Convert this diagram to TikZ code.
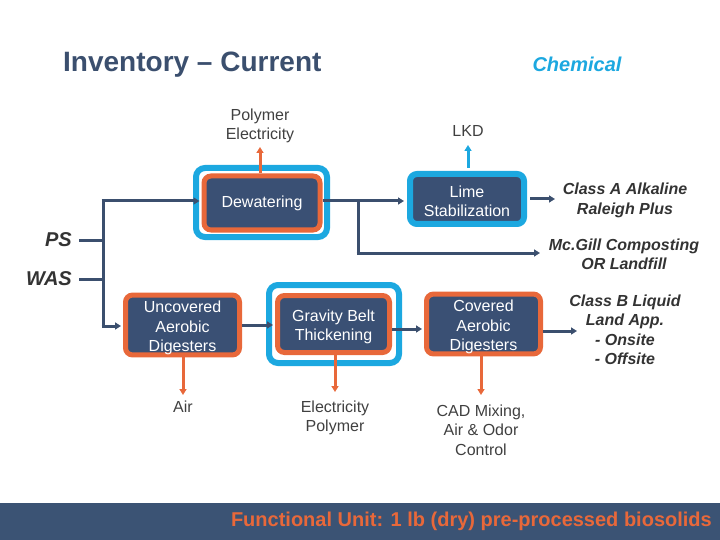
\documentclass[tikz,border=0pt]{standalone}
\usepackage{fontspec}
\setmainfont{Liberation Sans}
\usetikzlibrary{arrows.meta}
\definecolor{navy}{HTML}{3B4F6E}
\definecolor{boxfill}{HTML}{3A5074}
\definecolor{orng}{HTML}{E8683A}
\definecolor{cyanb}{HTML}{1CA8E0}
\definecolor{txtgray}{HTML}{404040}
\definecolor{outgray}{HTML}{333333}
\definecolor{footbar}{HTML}{3B5374}
\newcommand{\dropline}{\rule{0pt}{17.5pt}}
\begin{document}
\begin{tikzpicture}[x=1pt,y=-1pt,
  proc/.style={fill=boxfill, text=white, rounded corners=7pt, align=center,
    font=\fontsize{16}{19.5}\selectfont, inner sep=0pt},
  orbox/.style={proc, draw=orng, line width=5pt},
  blbox/.style={proc, draw=cyanb, line width=6pt},
  ring/.style={draw=cyanb, line width=6pt, rounded corners=9pt},
  tip/.style={-{Triangle[length=6pt,width=7pt]}},
  conn/.style={draw=navy, line width=3pt},
  oconn/.style={draw=orng, line width=3pt, tip},
  cconn/.style={draw=cyanb, line width=3pt, tip},
  lbl/.style={text=txtgray, align=center, font=\fontsize{16}{19.5}\selectfont, inner sep=0pt},
  outlbl/.style={text=outgray, align=center, font=\fontsize{16}{19.5}\selectfont\bfseries\itshape, inner sep=0pt},
  srclbl/.style={text=outgray, font=\fontsize{20}{24}\selectfont\bfseries\itshape, inner sep=0pt}
]
\useasboundingbox (0,0) rectangle (720,540);

% title
\node[anchor=west, text=navy, font=\fontsize{28}{32}\selectfont\bfseries, inner sep=0pt] (title) at (63,65) {Inventory – Current};
\node[text=cyanb, font=\fontsize{20}{24}\selectfont\bfseries\itshape, inner sep=0pt] (chem) at (577,64) {Chemical};

% boxes
\node[orbox, minimum width=116pt, minimum height=54pt] (dew) at (262,203) {Dewatering};
\draw[ring] (196,168) rectangle (327,237);
\node[blbox, minimum width=114pt, minimum height=50pt] (lime) at (467,199) {\rule{0pt}{16pt}Lime\\Stabilization};
\node[orbox, minimum width=114pt, minimum height=59pt] (unc) at (182.5,325) {\dropline Uncovered\\Aerobic\\Digesters};
\node[orbox, minimum width=112pt, minimum height=57pt] (grav) at (333.5,324) {\dropline Gravity Belt\\Thickening};
\draw[ring] (269,285) rectangle (399,363);
\node[orbox, minimum width=114pt, minimum height=57pt] (cov) at (483.5,324) {\dropline Covered\\Aerobic\\Digesters};

% labels
\node[lbl] (polel) at (260,126) {Polymer\\Electricity};
\node[lbl] (lkd) at (468,131) {LKD};
\node[lbl] (air) at (183,407) {Air};
\node[lbl] (elpo) at (335,418) {Electricity\\Polymer};
\node[lbl] (cad) at (481,430) {CAD Mixing,\\Air \& Odor\\Control};
\node[outlbl] (classa) at (625,200.5) {Class A Alkaline\\Raleigh Plus};
\node[outlbl] (mcgill) at (624,254.5) {Mc.Gill Composting\\OR Landfill};
\node[outlbl] (classb) at (625,330) {Class B Liquid\\Land App.\\- Onsite\\- Offsite};
\node[srclbl, anchor=east] (ps) at (72,240) {PS};
\node[srclbl, anchor=east] (was) at (72,279) {WAS};

% junctions
\coordinate (jt) at (103,201);
\coordinate (jb) at (103,326);
\coordinate (br) at (358,201);
\coordinate (brb) at (358,253);

% connectors
\draw[conn] ([xshift=7pt]ps.east) -- (ps.east -| jt);
\draw[conn] ([xshift=7pt]was.east) -- (was.east -| jt);
\draw[conn] (jt) -- (jb);
\draw[conn, tip, shorten >=2pt] ([xshift=-1.5pt]jt) -- (jt -| dew.west);
\draw[conn, tip, shorten >=2pt] ([xshift=-1.5pt]jb) -- (jb -| unc.west);
\draw[conn, tip, shorten >=3pt] (jt -| dew.east) -- (jt -| lime.west);
\draw[conn] (br) -- (brb);
\draw[conn, tip] ([xshift=-1.5pt]brb) -- (brb -| 540,0);
\draw[conn, tip, shorten <=3pt] (lime.east) -- (555,199);
\draw[conn, tip, shorten >=2pt] (unc.east) -- (unc.east -| grav.west);
\draw[conn, tip, shorten >=2pt] (grav.east |- 0,329) -- (cov.west |- 0,329);
\draw[conn, tip] (cov.east |- 0,331) -- (577,331);

\draw[oconn] (dew.north -| polel.south) -- (polel.south |- 0,147);
\draw[cconn, shorten <=3pt] (lime.north -| lkd.south) -- (lkd.south |- 0,145);
\draw[oconn] (unc.south -| air.north) -- (air.north |- 0,395);
\draw[oconn] (grav.south -| elpo.north) -- (elpo.north |- 0,392);
\draw[oconn] (cov.south -| cad.north) -- (cad.north |- 0,395);

% footer
\fill[footbar] (0,503) rectangle (720,540);
\node[anchor=east, text=orng, font=\fontsize{20}{24}\selectfont\bfseries, inner sep=0pt] (fu) at (712,521) {Functional Unit: 1 lb (dry) pre-processed biosolids};
\end{tikzpicture}
\end{document}
